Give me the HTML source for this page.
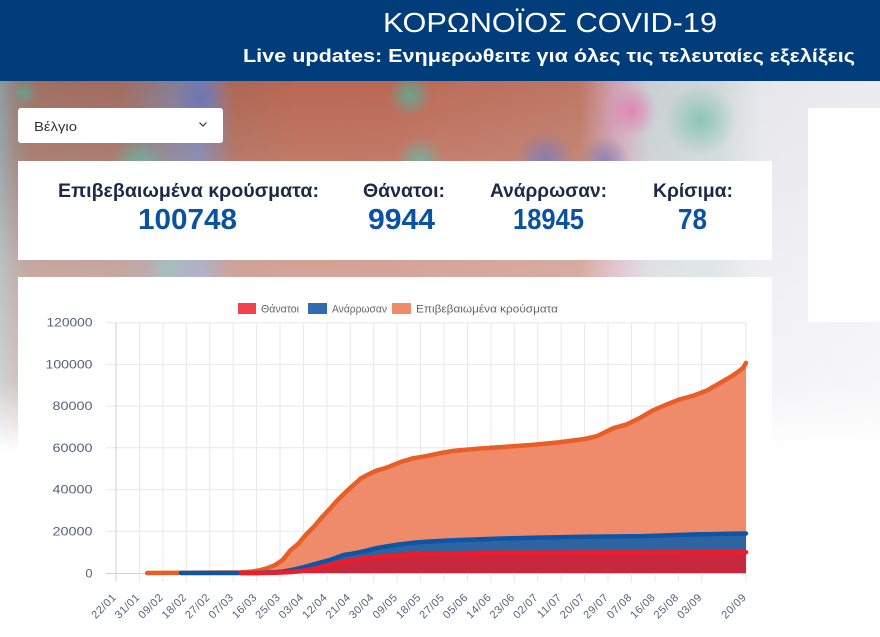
<!DOCTYPE html>
<html><head><meta charset="utf-8">
<style>
html,body{margin:0;padding:0;}
body{width:880px;height:637px;overflow:hidden;position:relative;background:#fff;font-family:"Liberation Sans","DejaVu Sans",sans-serif;}
.hdr{position:absolute;left:0;top:0;width:880px;height:81px;background:#023d7b;}
.bg{position:absolute;left:0;top:81px;width:880px;height:380px;
background:
linear-gradient(to bottom, rgba(255,255,255,0) 0px, rgba(255,255,255,0.1) 70px, rgba(255,255,255,0.38) 180px, rgba(255,255,255,0.55) 300px, #fff 370px),
radial-gradient(circle at 140px 84px, rgba(85,170,145,0.9) 0, rgba(85,170,145,0) 30px),
radial-gradient(circle at 25px 12px, rgba(85,170,150,0.7) 0, rgba(85,170,150,0) 14px),
radial-gradient(circle at 200px 19px, rgba(105,112,175,0.9) 0, rgba(105,112,175,0) 26px),
radial-gradient(circle at 410px 14px, rgba(90,170,145,0.9) 0, rgba(90,170,145,0) 22px),
radial-gradient(circle at 420px 80px, rgba(90,170,145,0.9) 0, rgba(90,170,145,0) 25px),
radial-gradient(circle at 545px 80px, rgba(105,110,175,0.9) 0, rgba(105,110,175,0) 30px),
radial-gradient(circle at 605px 80px, rgba(110,110,170,0.85) 0, rgba(110,110,170,0) 25px),
radial-gradient(circle at 632px 30px, rgba(225,120,175,0.85) 0, rgba(225,120,175,0) 26px),
radial-gradient(circle at 700px 40px, rgba(120,190,170,0.85) 0, rgba(120,190,170,0) 36px),
radial-gradient(circle at 170px 185px, rgba(90,170,150,0.7) 0, rgba(90,170,150,0) 22px),
linear-gradient(to right, #8d9c9e 0px, #977f7a 15px, #a07062 30px, #a26c5f 120px, #8a7b8c 165px, #7c80aa 200px, #ae6754 235px, #b96853 300px, #ba6854 390px, #bc6d5a 440px, #bd7663 580px, #d0a0b2 615px, #c9cfd2 650px, #cfd9d8 720px, #e6e6ec 760px, #ececf0 880px);}
.box{position:absolute;background:#fff;}
svg{position:absolute;left:0;top:0;}
</style></head>
<body>
<div class="hdr"></div>
<div class="bg"></div>
<div class="box" style="left:18px;top:108px;width:205px;height:35px;border-radius:3px;"></div>
<div class="box" style="left:808px;top:108px;width:72px;height:214px;"></div>
<div class="box" style="left:18px;top:161px;width:754px;height:99px;"></div>
<div class="box" style="left:18px;top:277px;width:754px;height:360px;"></div>

<svg width="880" height="637" viewBox="0 0 880 637" xmlns="http://www.w3.org/2000/svg" font-family="Liberation Sans, DejaVu Sans, sans-serif">
<text x="383" y="32" font-size="28" fill="#ffffff" textLength="334" lengthAdjust="spacingAndGlyphs">ΚΟΡΩΝΟΪΟΣ COVID-19</text>
<text x="243" y="62" font-size="18" font-weight="bold" fill="#ffffff" textLength="612" lengthAdjust="spacingAndGlyphs">Live updates: Ενημερωθειτε για όλες τις τελευταίες εξελίξεις</text>

<text x="34" y="131" font-size="13" fill="#333" textLength="43" lengthAdjust="spacingAndGlyphs">Βέλγιο</text>
<polyline points="199.5,122.5 203,126 206.5,122.5" fill="none" stroke="#333" stroke-width="1.2"/>

<g font-weight="bold" fill="#1d2a47" font-size="19">
<text x="58" y="197" textLength="261" lengthAdjust="spacingAndGlyphs">Επιβεβαιωμένα κρούσματα:</text>
<text x="363" y="197" textLength="82" lengthAdjust="spacingAndGlyphs">Θάνατοι:</text>
<text x="490" y="197" textLength="117" lengthAdjust="spacingAndGlyphs">Ανάρρωσαν:</text>
<text x="653" y="197" textLength="80" lengthAdjust="spacingAndGlyphs">Κρίσιμα:</text>
</g>
<g font-weight="bold" fill="#0c52a3" font-size="29">
<text x="138" y="229" textLength="99" lengthAdjust="spacingAndGlyphs">100748</text>
<text x="368" y="229" textLength="67" lengthAdjust="spacingAndGlyphs">9944</text>
<text x="513" y="229" textLength="71" lengthAdjust="spacingAndGlyphs">18945</text>
<text x="678" y="229" textLength="29" lengthAdjust="spacingAndGlyphs">78</text>
</g>

<rect x="238" y="303" width="18" height="11" fill="#f0434f"/>
<text x="261" y="312.5" font-size="11" fill="#666" textLength="38" lengthAdjust="spacingAndGlyphs">Θάνατοι</text>
<rect x="308" y="303" width="19" height="11" fill="#2e6cb3"/>
<text x="332" y="312.5" font-size="11" fill="#666" textLength="55" lengthAdjust="spacingAndGlyphs">Ανάρρωσαν</text>
<rect x="392" y="303" width="19" height="11" fill="#ef8b69"/>
<text x="416" y="312.5" font-size="11" fill="#666" textLength="142" lengthAdjust="spacingAndGlyphs">Επιβεβαιωμένα κρούσματα</text>

<g stroke="#e8e8e8" stroke-width="1">
<line x1="106" y1="322.7" x2="746" y2="322.7"/>
<line x1="106" y1="364.4" x2="746" y2="364.4"/>
<line x1="106" y1="406.1" x2="746" y2="406.1"/>
<line x1="106" y1="447.8" x2="746" y2="447.8"/>
<line x1="106" y1="489.6" x2="746" y2="489.6"/>
<line x1="106" y1="531.3" x2="746" y2="531.3"/>
</g>
<line x1="106" y1="573.5" x2="746" y2="573.5" stroke="#d0d0d0" stroke-width="1"/>
<g stroke="#e8e8e8" stroke-width="1">
<line x1="139.4" y1="322.7" x2="139.4" y2="582"/>
<line x1="162.9" y1="322.7" x2="162.9" y2="582"/>
<line x1="186.3" y1="322.7" x2="186.3" y2="582"/>
<line x1="209.7" y1="322.7" x2="209.7" y2="582"/>
<line x1="233.2" y1="322.7" x2="233.2" y2="582"/>
<line x1="256.6" y1="322.7" x2="256.6" y2="582"/>
<line x1="280.0" y1="322.7" x2="280.0" y2="582"/>
<line x1="303.4" y1="322.7" x2="303.4" y2="582"/>
<line x1="326.9" y1="322.7" x2="326.9" y2="582"/>
<line x1="350.3" y1="322.7" x2="350.3" y2="582"/>
<line x1="373.7" y1="322.7" x2="373.7" y2="582"/>
<line x1="397.2" y1="322.7" x2="397.2" y2="582"/>
<line x1="420.6" y1="322.7" x2="420.6" y2="582"/>
<line x1="444.0" y1="322.7" x2="444.0" y2="582"/>
<line x1="467.5" y1="322.7" x2="467.5" y2="582"/>
<line x1="490.9" y1="322.7" x2="490.9" y2="582"/>
<line x1="514.3" y1="322.7" x2="514.3" y2="582"/>
<line x1="537.7" y1="322.7" x2="537.7" y2="582"/>
<line x1="561.2" y1="322.7" x2="561.2" y2="582"/>
<line x1="584.6" y1="322.7" x2="584.6" y2="582"/>
<line x1="608.0" y1="322.7" x2="608.0" y2="582"/>
<line x1="631.5" y1="322.7" x2="631.5" y2="582"/>
<line x1="654.9" y1="322.7" x2="654.9" y2="582"/>
<line x1="678.3" y1="322.7" x2="678.3" y2="582"/>
<line x1="701.7" y1="322.7" x2="701.7" y2="582"/>
<line x1="746" y1="322.7" x2="746" y2="582"/>
</g>
<line x1="116" y1="322.7" x2="116" y2="582" stroke="#d0d0d0" stroke-width="1"/>

<g font-size="12" fill="#56617a" text-anchor="end">
<text x="92.5" y="326.7" textLength="46" lengthAdjust="spacingAndGlyphs">120000</text>
<text x="92.5" y="368.4" textLength="47" lengthAdjust="spacingAndGlyphs">100000</text>
<text x="92.5" y="410.1" textLength="40" lengthAdjust="spacingAndGlyphs">80000</text>
<text x="92.5" y="451.8" textLength="40" lengthAdjust="spacingAndGlyphs">60000</text>
<text x="92.5" y="493.6" textLength="40" lengthAdjust="spacingAndGlyphs">40000</text>
<text x="92.5" y="535.3" textLength="40" lengthAdjust="spacingAndGlyphs">20000</text>
<text x="92.5" y="577.5" textLength="7" lengthAdjust="spacingAndGlyphs">0</text>
</g>

<g font-size="11" fill="#56617a" text-anchor="end" letter-spacing="0.5">
<text transform="translate(117,598) rotate(-45)">22/01</text>
<text transform="translate(140.4,598) rotate(-45)">31/01</text>
<text transform="translate(163.9,598) rotate(-45)">09/02</text>
<text transform="translate(187.3,598) rotate(-45)">18/02</text>
<text transform="translate(210.7,598) rotate(-45)">27/02</text>
<text transform="translate(234.2,598) rotate(-45)">07/03</text>
<text transform="translate(257.6,598) rotate(-45)">16/03</text>
<text transform="translate(281.0,598) rotate(-45)">25/03</text>
<text transform="translate(304.4,598) rotate(-45)">03/04</text>
<text transform="translate(327.9,598) rotate(-45)">12/04</text>
<text transform="translate(351.3,598) rotate(-45)">21/04</text>
<text transform="translate(374.7,598) rotate(-45)">30/04</text>
<text transform="translate(398.2,598) rotate(-45)">09/05</text>
<text transform="translate(421.6,598) rotate(-45)">18/05</text>
<text transform="translate(445.0,598) rotate(-45)">27/05</text>
<text transform="translate(468.5,598) rotate(-45)">05/06</text>
<text transform="translate(491.9,598) rotate(-45)">14/06</text>
<text transform="translate(515.3,598) rotate(-45)">23/06</text>
<text transform="translate(538.7,598) rotate(-45)">02/07</text>
<text transform="translate(562.2,598) rotate(-45)">11/07</text>
<text transform="translate(585.6,598) rotate(-45)">20/07</text>
<text transform="translate(609.0,598) rotate(-45)">29/07</text>
<text transform="translate(632.5,598) rotate(-45)">07/08</text>
<text transform="translate(655.9,598) rotate(-45)">16/08</text>
<text transform="translate(679.3,598) rotate(-45)">25/08</text>
<text transform="translate(702.7,598) rotate(-45)">03/09</text>
<text transform="translate(747,598) rotate(-45)">20/09</text>
</g>

<polygon fill="#ef8b6a" points="147.2,573 241,572.4 251.4,571.6 259.2,570.4 267,568.3 274.8,565.2 282.6,560 290.4,550.4 298.2,543.9 306,534.6 313.9,526.7 321.7,517.4 329.5,509.2 337.3,500.4 345.1,492.7 352.9,485.6 360.7,478.5 368.5,474.3 376.3,470.7 386.7,467.6 399.8,462.3 412.8,458.3 425.8,456.2 438.8,453.4 454.4,450.7 480.5,448.5 506.5,446.7 532.5,444.9 558.6,442.4 584.6,439 597.6,435.9 613.2,428.2 626.2,424.6 639.3,418.3 652.3,410.7 665.3,405.1 678.3,399.8 693.9,395.5 707,390.5 720,383 730.4,377 738.2,371.7 743.4,367.5 746,362.9 746,573"/>
<polyline fill="none" stroke="#e95e27" stroke-width="4.5" stroke-linejoin="round" stroke-linecap="round" points="147.2,573 241,572.4 251.4,571.6 259.2,570.4 267,568.3 274.8,565.2 282.6,560 290.4,550.4 298.2,543.9 306,534.6 313.9,526.7 321.7,517.4 329.5,509.2 337.3,500.4 345.1,492.7 352.9,485.6 360.7,478.5 368.5,474.3 376.3,470.7 386.7,467.6 399.8,462.3 412.8,458.3 425.8,456.2 438.8,453.4 454.4,450.7 480.5,448.5 506.5,446.7 532.5,444.9 558.6,442.4 584.6,439 597.6,435.9 613.2,428.2 626.2,424.6 639.3,418.3 652.3,410.7 665.3,405.1 678.3,399.8 693.9,395.5 707,390.5 720,383 730.4,377 738.2,371.7 743.4,367.5 746,362.9"/>

<polygon fill="#2e64a0" points="181,573 256.6,573 267,572.5 274.8,572.3 282.6,571.6 290.4,570.2 298.2,568.6 306,566.5 313.9,564.3 321.7,562.2 329.5,560.1 337.3,557.2 345.1,554.7 352.9,553.6 360.7,551.9 368.5,550.2 376.3,548.2 386.7,546.4 399.8,544.4 412.8,542.8 425.8,541.7 438.8,541 454.4,540.3 480.5,539.2 506.5,538.4 532.5,537.8 558.6,537.2 584.6,536.8 639.3,536.2 696.5,534.4 746,533.5 746,573"/>
<polyline fill="none" stroke="#0c56a8" stroke-width="4.5" stroke-linejoin="round" stroke-linecap="round" points="181,573 256.6,573 267,572.5 274.8,572.3 282.6,571.6 290.4,570.2 298.2,568.6 306,566.5 313.9,564.3 321.7,562.2 329.5,560.1 337.3,557.2 345.1,554.7 352.9,553.6 360.7,551.9 368.5,550.2 376.3,548.2 386.7,546.4 399.8,544.4 412.8,542.8 425.8,541.7 438.8,541 454.4,540.3 480.5,539.2 506.5,538.4 532.5,537.8 558.6,537.2 584.6,536.8 639.3,536.2 696.5,534.4 746,533.5"/>

<polygon fill="#c8283d" points="241,573 259.2,573 267,572.9 274.8,572.8 282.6,572.5 290.4,572.1 298.2,571.3 306,570.3 313.9,568.8 321.7,566.7 329.5,564.9 337.3,562.9 345.1,561.1 352.9,559.9 360.7,558.6 368.5,557.7 376.3,556.9 386.7,556.3 399.8,554.9 412.8,554.3 425.8,553.9 438.8,553.6 454.4,553.3 480.5,552.9 532.5,552.7 613.2,552.5 746,552.3 746,573"/>
<polyline fill="none" stroke="#ee1c2a" stroke-width="4.5" stroke-linejoin="round" stroke-linecap="round" points="241,573 259.2,573 267,572.9 274.8,572.8 282.6,572.5 290.4,572.1 298.2,571.3 306,570.3 313.9,568.8 321.7,566.7 329.5,564.9 337.3,562.9 345.1,561.1 352.9,559.9 360.7,558.6 368.5,557.7 376.3,556.9 386.7,556.3 399.8,554.9 412.8,554.3 425.8,553.9 438.8,553.6 454.4,553.3 480.5,552.9 532.5,552.7 613.2,552.5 746,552.3"/>
</svg>
</body></html>
